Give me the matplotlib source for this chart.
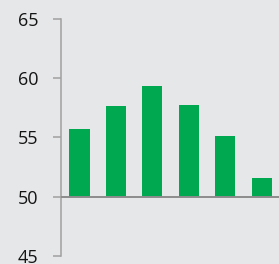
import numpy as np
import matplotlib.pyplot as plt

# values
values = [55.7, 57.6, 59.35, 57.7, 55.08, 51.6]
yticks = [45, 50, 55, 60, 65]
baseline = 50

bg = "#e6e7e9"
fig = plt.figure(figsize=(2.79, 2.64), dpi=100, facecolor=bg)
ax = fig.add_axes([0.2186, 0.031, 0.7814, 0.898], facecolor=bg)

x = np.arange(len(values))
heights = [v - baseline for v in values]
ax.bar(x, heights, width=0.55, bottom=baseline, color="#00a94f", zorder=2)

# baseline at 50
ax.axhline(baseline, color="#8c8c8c", lw=1.4, zorder=3)

ax.set_xlim(-0.507, 5.47)
ax.set_ylim(45, 65)
ax.set_yticks(yticks)
ax.set_xticks([])

ax.spines[['top', 'right', 'bottom']].set_visible(False)
ax.spines['left'].set_color("#a0a0a0")
ax.spines['left'].set_linewidth(1.1)
ax.tick_params(axis='y', length=5.5, width=1.1, color="#a0a0a0", pad=11,
               labelsize=13, labelcolor="#141414")
for lab in ax.get_yticklabels():
    lab.set_fontfamily("Open Sans")

fig.savefig("out.png", dpi=100, facecolor=bg)
